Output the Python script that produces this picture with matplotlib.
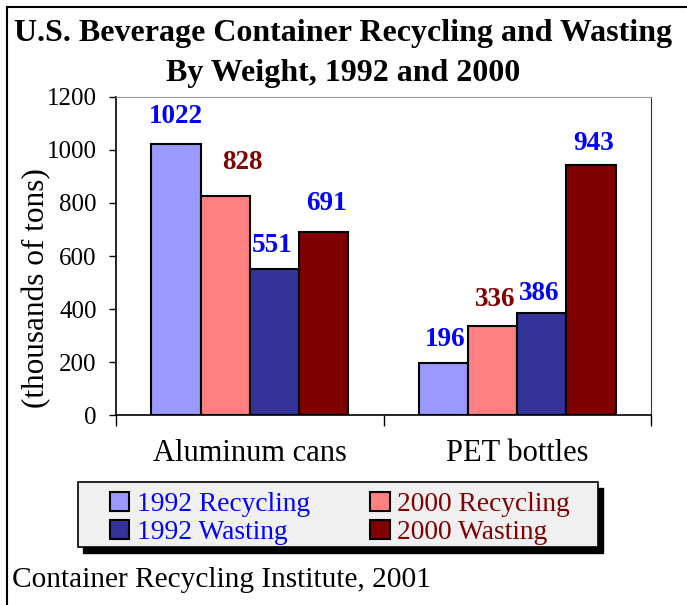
import matplotlib
matplotlib.use('Agg')
import numpy as np
import matplotlib.pyplot as plt
from matplotlib.lines import Line2D
from matplotlib.patches import Rectangle

# data
categories = ['Aluminum cans', 'PET bottles']
series = ['1992 Recycling', '2000 Recycling', '1992 Wasting', '2000 Wasting']
values = [[1022, 196],
          [828, 336],
          [551, 386],
          [691, 943]]
bar_colors = ['#9999FF', '#FF8080', '#333399', '#800000']
label_colors = [['#0000FF', '#0000FF'],
                ['#800000', '#800000'],
                ['#0000FF', '#0000FF'],
                ['#0000FF', '#0000FF']]
text_colors = ['#0000FF', '#800000', '#0000FF', '#800000']
yticks = [0, 200, 400, 600, 800, 1000, 1200]

# label nudges (x in bar widths, y in data units) to mimic the original placement
label_dx = [[0.0, 0.03], [0.35, 0.05], [-0.05, -0.05], [0.05, 0.05]]
label_dy = [[105, 90], [123, 100], [88, 73], [107, 83]]

plt.rcParams['font.family'] = ['Liberation Serif', 'DejaVu Serif']

fig = plt.figure(figsize=(6.87, 6.05), dpi=100)
ax = fig.add_axes([0.1689, 0.314, 0.7787, 0.5257])

x = np.arange(len(categories))
w = 0.184
for i, s in enumerate(series):
    pos = x + (i - 1.5) * w
    ax.bar(pos, values[i], width=w, color=bar_colors[i], edgecolor='black',
           linewidth=1.5, label=s, zorder=3)
    for j, v in enumerate(values[i]):
        ax.text(pos[j] + label_dx[i][j] * w, v + label_dy[i][j], str(v),
                ha='center', va='center', fontsize=19.5, fontweight='bold',
                color=label_colors[i][j])

ax.set_xlim(-0.5, 1.5)
ax.set_ylim(0, 1200)
ax.set_yticks(yticks)
ax.tick_params(axis='y', labelsize=18, length=5, width=1, direction='out', pad=9)
ax.set_xticks(x)
ax.set_xticklabels(categories, fontsize=22)
ax.tick_params(axis='x', length=0, pad=17)
ax.set_xticks([-0.5, 0.5, 1.5], minor=True)
ax.tick_params(axis='x', which='minor', length=8, width=1, direction='out')
ax.tick_params(axis='y', which='minor', length=0)

for side in ['left', 'bottom']:
    ax.spines[side].set_linewidth(1.2)
ax.spines['top'].set_color('#999999')
ax.spines['right'].set_color('#333333')

ax.set_ylabel('(thousands of tons)', fontsize=22.5)
ax.yaxis.set_label_coords(-0.1215, 0.40)

fig.text(0.5, 0.945, 'U.S. Beverage Container Recycling and Wasting',
         ha='center', va='center', fontsize=23, fontweight='bold')
fig.text(0.5, 0.879, 'By Weight, 1992 and 2000',
         ha='center', va='center', fontsize=23, fontweight='bold')

# legend with drop shadow
lx0, ly0, lw, lh = 78 / 687, 1 - 547 / 605, 520 / 687, 65 / 605
fig.patches.append(Rectangle((lx0 + 5 / 687, ly0 - 6 / 605), lw, lh,
                             transform=fig.transFigure, facecolor='black',
                             edgecolor='black', zorder=1))
fig.patches.append(Rectangle((lx0, ly0), lw, lh, transform=fig.transFigure,
                             facecolor='#F0F0F0', edgecolor='black',
                             linewidth=1.2, zorder=2))
# order handles row by row like the original
handles, labels = ax.get_legend_handles_labels()
order = [0, 2, 1, 3]
leg = fig.legend([handles[k] for k in order], [labels[k] for k in order],
                 loc='center', bbox_to_anchor=(lx0 + lw / 2 + 2 / 687, ly0 + lh / 2 - 4 / 605),
                 ncol=2, fontsize=19.8, frameon=False, handlelength=0.7,
                 handleheight=0.7, handletextpad=0.28, columnspacing=2.2,
                 labelspacing=0.1, borderaxespad=0, borderpad=0)
leg.set_zorder(3)
for t, k in zip(leg.get_texts(), order):
    t.set_color(text_colors[k])

fig.text(12 / 687, 1 - 580 / 605, 'Container Recycling Institute, 2001',
         ha='left', va='center', fontsize=21.2)

# figure frame lines (top and left)
fig.add_artist(Line2D([7 / 687, 1], [1 - 7 / 605, 1 - 7 / 605], color='black', linewidth=1.5))
fig.add_artist(Line2D([7 / 687, 7 / 687], [0, 1 - 7 / 605], color='black', linewidth=1.5))

fig.savefig('out.png', dpi=100)
